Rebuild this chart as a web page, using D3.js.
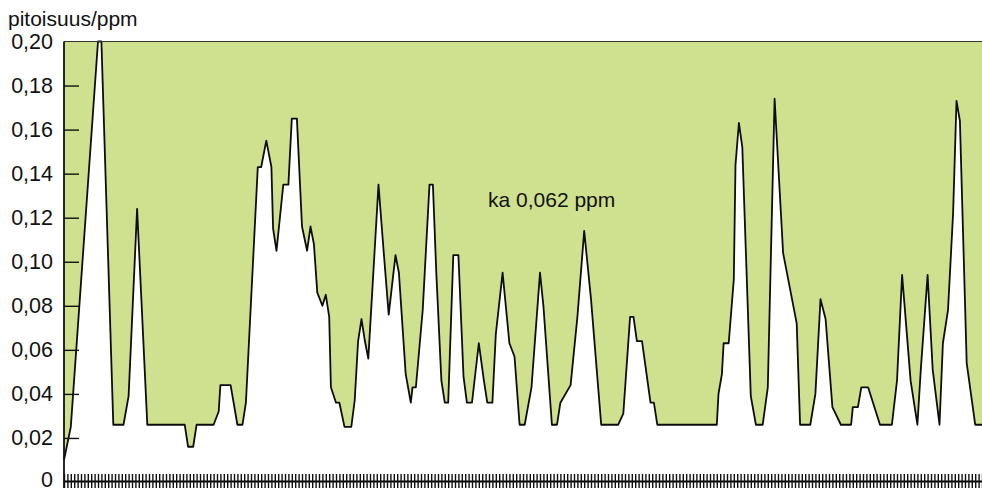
<!DOCTYPE html>
<html>
<head>
<meta charset="utf-8">
<script src="https://cdn.jsdelivr.net/npm/d3@7"></script>
<style>
  html, body { margin: 0; padding: 0; background: #fff; }
  svg { display: block; }
  text { font-family: "Liberation Sans", Arial, sans-serif; fill: #111; }
</style>
</head>
<body>
<svg id="chart" width="982" height="492"></svg>
<script>
// Measurement series: sample number and concentration (ppm) at each breakpoint
const sampleNo = [
  0, 2, 10, 11, 14.5, 17.5, 19, 21.5, 24.5, 35.5, 36.5, 38, 39, 44, 45.5, 46, 49, 51, 52.5, 53.5,
  57, 58, 59.5, 61, 61.5, 62.5, 64.5, 66, 67, 68.5, 70, 71.5, 72.5, 73.5, 74.5, 76, 77, 78, 78.5, 80,
  81, 82.5, 84.5, 85.5, 86.5, 87.5, 88.5, 89.5, 92.5, 94, 95.5, 97.5, 98.5, 100.5, 102, 102.5, 103.5, 105.5, 107.5, 108.5,
  109.5, 111, 112, 113, 114.5, 116, 117.5, 118.5, 120, 122, 123.5, 124.5, 126, 127, 129, 131, 132.5, 134, 135.5, 137.5,
  140, 141, 143.5, 145, 146, 149, 151, 153, 155, 158, 163, 164.5, 166.5, 167.5, 168.5, 170, 172.5, 173.5, 174.5, 192,
  192.5, 193.5, 194, 195.5, 197, 197.5, 198.5, 199.5, 202, 203.5, 205.5, 207, 209, 211.5, 213, 215.5, 216.5, 219.5, 221, 222.5,
  224, 226, 228.5, 231.5, 232, 233.5, 234.5, 236.5, 240, 243.5, 245, 246.5, 249, 251, 252, 254, 255.5, 257.5, 258.5, 260,
  261.5, 262.5, 263.5, 265.5, 268, 270
];
const ppm = [
  0.010, 0.025, 0.200, 0.200, 0.026, 0.026, 0.039, 0.124, 0.026, 0.026, 0.016, 0.016, 0.026, 0.026, 0.032, 0.044, 0.044, 0.026, 0.026, 0.036,
  0.143, 0.143, 0.155, 0.143, 0.115, 0.105, 0.135, 0.135, 0.165, 0.165, 0.116, 0.105, 0.116, 0.108, 0.086, 0.080, 0.085, 0.075, 0.043, 0.036,
  0.036, 0.025, 0.025, 0.037, 0.064, 0.074, 0.064, 0.056, 0.135, 0.105, 0.076, 0.103, 0.095, 0.049, 0.036, 0.043, 0.043, 0.078, 0.135, 0.135,
  0.095, 0.046, 0.036, 0.036, 0.103, 0.103, 0.048, 0.036, 0.036, 0.063, 0.046, 0.036, 0.036, 0.067, 0.095, 0.063, 0.057, 0.026, 0.026, 0.043,
  0.095, 0.080, 0.026, 0.026, 0.036, 0.044, 0.075, 0.114, 0.083, 0.026, 0.026, 0.031, 0.075, 0.075, 0.064, 0.064, 0.036, 0.036, 0.026, 0.026,
  0.040, 0.049, 0.063, 0.063, 0.092, 0.144, 0.163, 0.152, 0.039, 0.026, 0.026, 0.043, 0.174, 0.104, 0.092, 0.072, 0.026, 0.026, 0.040, 0.083,
  0.074, 0.034, 0.026, 0.026, 0.034, 0.034, 0.043, 0.043, 0.026, 0.026, 0.046, 0.094, 0.046, 0.026, 0.051, 0.094, 0.051, 0.026, 0.063, 0.078,
  0.122, 0.173, 0.164, 0.054, 0.026, 0.026
];
const sampleCount = 270;
const yTickValues = [0, 0.02, 0.04, 0.06, 0.08, 0.10, 0.12, 0.14, 0.16, 0.18, 0.20];
const yTitle = "pitoisuus/ppm";
const meanLabel = "ka 0,062 ppm";

const data = sampleNo.map((t, i) => ({ t, v: ppm[i] }));

const svg = d3.select("#chart");
const plotLeft = 64, plotRight = 982, plotTop = 41.5, plotBottom = 482;

const x = d3.scaleLinear().domain([0, sampleCount]).range([plotLeft, plotRight]);
const y = d3.scaleLinear().domain([0, 0.20]).range([plotBottom, plotTop]);

// Green band above the concentration curve
svg.append("path")
  .datum(data)
  .attr("fill", "#cfe08e")
  .attr("d", d3.area().x(d => x(d.t)).y0(y(0.20)).y1(d => y(d.v)));

// Concentration curve
svg.append("path")
  .datum(data)
  .attr("fill", "none")
  .attr("stroke", "#0d0d0d")
  .attr("stroke-width", 1.8)
  .attr("stroke-linejoin", "round")
  .attr("d", d3.line().x(d => x(d.t)).y(d => y(d.v)));

// Top frame line
svg.append("line")
  .attr("x1", plotLeft).attr("x2", plotRight)
  .attr("y1", y(0.20)).attr("y2", y(0.20))
  .attr("stroke", "#333").attr("stroke-width", 1.2);

// Y axis with inward ticks and comma decimals
const fmt = d => d === 0 ? "0" : d.toFixed(2).replace(".", ",");
const yAxis = svg.append("g")
  .attr("transform", `translate(${plotLeft},0)`)
  .call(d3.axisLeft(y).tickValues(yTickValues).tickSizeInner(-15).tickSizeOuter(0).tickPadding(11).tickFormat(fmt));
yAxis.select(".domain").remove();
yAxis.selectAll(".tick line").attr("stroke", "#111").attr("stroke-width", 1.4)
  .filter(d => d === 0 || d === 0.20).remove();
yAxis.selectAll(".tick text")
  .attr("font-size", 21.5)
  .attr("font-family", "Liberation Sans, Arial, sans-serif")
  .attr("fill", "#111");
// keep the bottom "0" label inside the canvas
yAxis.selectAll(".tick text").filter(d => d === 0).attr("dy", "0.22em");

svg.append("line")
  .attr("x1", plotLeft).attr("x2", plotLeft)
  .attr("y1", plotTop).attr("y2", 488)
  .attr("stroke", "#111").attr("stroke-width", 1.8);

// X axis: one tick per sample, crossing the baseline
const xAxis = svg.append("g")
  .attr("transform", `translate(0,${plotBottom - 1})`)
  .call(d3.axisBottom(x).tickValues(d3.range(0, sampleCount + 1)).tickSize(7).tickSizeOuter(0).tickFormat(""));
xAxis.select(".domain").attr("stroke", "#000").attr("stroke-width", 2);
xAxis.selectAll(".tick line").attr("y1", -7).attr("stroke", "#111").attr("stroke-width", 1.4);

// Titles
svg.append("text")
  .attr("x", 8).attr("y", 26)
  .attr("font-size", 21)
  .text(yTitle);

svg.append("text")
  .attr("x", 488).attr("y", 207)
  .attr("font-size", 21)
  .text(meanLabel);
</script>
</body>
</html>
